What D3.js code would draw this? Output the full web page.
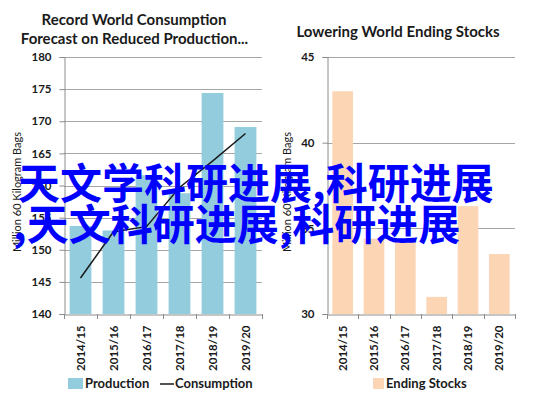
<!DOCTYPE html>
<html><head><meta charset="utf-8">
<script src="https://cdn.jsdelivr.net/npm/d3@7"></script>
<style>
html,body{margin:0;padding:0;background:#fff;}
svg{display:block;}
</style></head>
<body>
<svg id="c" width="537" height="399"></svg>
<script>
const categories = ["2014/15","2015/16","2016/17","2017/18","2018/19","2019/20"];
const production = [153.7, 153.0, 161.6, 158.8, 174.4, 169.1];
const consumption = [145.6, 152.8, 153.6, 159.7, 163.8, 168.1];
const endingStocks = [43.0, 34.4, 34.3, 31.0, 36.3, 33.5];
const leftTicks = [140,145,150,155,160,165,170,175,180];
const rightTicks = [30,35,40,45];
const leftTitle = ["Record World Consumption","Forecast on Reduced Production..."];
const rightTitle = "Lowering World Ending Stocks";
const yTitle = "Million 60 Kilogram Bags";
const overlay = ["天文学科研进展,科研进展", ",天文科研进展,科研进展"];

const svg = d3.select("#c");
const font = "Lato, 'Liberation Sans', sans-serif";
const gridC = "#a6a6a6", axisC = "#8c8c8c", textC = "#1a1a1a";

function panel(opts){
  const g = svg.append("g");
  const x = d3.scaleBand().domain(categories).range([opts.x0, opts.x1]).paddingInner(0.34).paddingOuter(0.17);
  const y = d3.scaleLinear().domain(opts.domain).range([314, 57]);
  // grid
  g.selectAll("line.grid").data(opts.ticks.slice(1)).join("line")
    .attr("x1", opts.x0).attr("x2", opts.x1)
    .attr("y1", d=>Math.round(y(d))+0.5).attr("y2", d=>Math.round(y(d))+0.5)
    .attr("stroke", gridC).attr("stroke-width",1);
  // bars
  g.selectAll("rect.bar").data(opts.values).join("rect")
    .attr("x",(d,i)=>x(categories[i])).attr("width",x.bandwidth())
    .attr("y",d=>y(d)).attr("height",d=>y(opts.domain[0])-y(d))
    .attr("fill",opts.color);
  // y axis
  const ya = d3.axisLeft(y).tickValues(opts.ticks).tickSize(5).tickPadding(8).tickFormat(d3.format("d"));
  const yg = g.append("g").attr("transform",`translate(${opts.x0+0.5},0)`).call(ya);
  yg.select(".domain").attr("stroke",axisC);
  yg.selectAll(".tick line").attr("stroke",axisC);
  yg.selectAll(".tick text").attr("font-family",font).attr("font-weight","bold").attr("font-size","11.5px").attr("fill",textC);
  // x axis
  const xa = d3.axisBottom(x).tickSize(0).tickFormat(d=>d);
  const xg = g.append("g").attr("transform",`translate(0,${314.5})`).call(xa);
  xg.select(".domain").attr("stroke",axisC);
  xg.selectAll(".tick text").attr("font-family",font).attr("font-weight","bold").attr("font-size","11.5px").attr("fill",textC)
    .attr("transform","rotate(-90)").attr("text-anchor","end").attr("dy","0.35em").attr("x",-11).attr("y",0);
  // boundary ticks
  const bounds = d3.range(categories.length+1).map(i=> opts.x0 + i*(opts.x1-opts.x0)/categories.length);
  g.selectAll("line.bt").data(bounds).join("line")
    .attr("x1",d=>Math.round(d)+0.5).attr("x2",d=>Math.round(d)+0.5).attr("y1",314).attr("y2",319)
    .attr("stroke",axisC);
  // y title
  g.append("text").attr("transform",`translate(${opts.yTitleX},${192}) rotate(-90)`)
    .attr("text-anchor","middle").attr("font-family",font).attr("font-size","11px").attr("fill",textC).text(yTitle);
  return {x,y,g};
}

const L = panel({x0:64, x1:262, domain:[140,180], ticks:leftTicks, values:production, color:"#93cddd", yTitleX:21});
const R = panel({x0:327, x1:515, domain:[30,45], ticks:rightTicks, values:endingStocks, color:"#fcd5b5", yTitleX:291});

// consumption line
const line = d3.line().x((d,i)=>L.x(categories[i])+L.x.bandwidth()/2).y(d=>L.y(d));
L.g.append("path").datum(consumption).attr("d",line).attr("fill","none").attr("stroke","#1a1a1a").attr("stroke-width",1.5);

// titles
svg.append("text").attr("x",134).attr("y",25).attr("text-anchor","middle").attr("font-family",font).attr("font-weight","bold").attr("font-size","15px").attr("fill",textC).text(leftTitle[0]);
svg.append("text").attr("x",134.5).attr("y",44).attr("text-anchor","middle").attr("font-family",font).attr("font-weight","bold").attr("font-size","15px").attr("fill",textC).text(leftTitle[1]);
svg.append("text").attr("x",398).attr("y",37).attr("text-anchor","middle").attr("font-family",font).attr("font-weight","bold").attr("font-size","15px").attr("fill",textC).text(rightTitle);

// legends
svg.append("rect").attr("x",68).attr("y",378).attr("width",15).attr("height",11).attr("fill","#93cddd");
svg.append("text").attr("x",85).attr("y",388).attr("font-family",font).attr("font-weight","bold").attr("font-size","13px").attr("fill",textC).text("Production");
svg.append("line").attr("x1",160).attr("x2",174).attr("y1",384).attr("y2",384).attr("stroke","#1a1a1a").attr("stroke-width",1.5);
svg.append("text").attr("x",175).attr("y",388).attr("font-family",font).attr("font-weight","bold").attr("font-size","13px").attr("fill",textC).text("Consumption");
svg.append("rect").attr("x",373).attr("y",378).attr("width",11).attr("height",11).attr("fill","#fcd5b5");
svg.append("text").attr("x",386).attr("y",388).attr("font-family",font).attr("font-weight","bold").attr("font-size","13px").attr("fill",textC).text("Ending Stocks");

// overlay text
const cjk = "'Noto Sans CJK SC', sans-serif";
svg.append("text").attr("x",18).attr("y",199).attr("font-family",cjk).attr("font-weight","bold").attr("font-size","42px").attr("fill","#0000ff").text(overlay[0]);
svg.append("text").attr("x",13).attr("y",240).attr("font-family",cjk).attr("font-weight","bold").attr("font-size","42px").attr("fill","#0000ff").text(overlay[1]);
</script>
</body></html>
